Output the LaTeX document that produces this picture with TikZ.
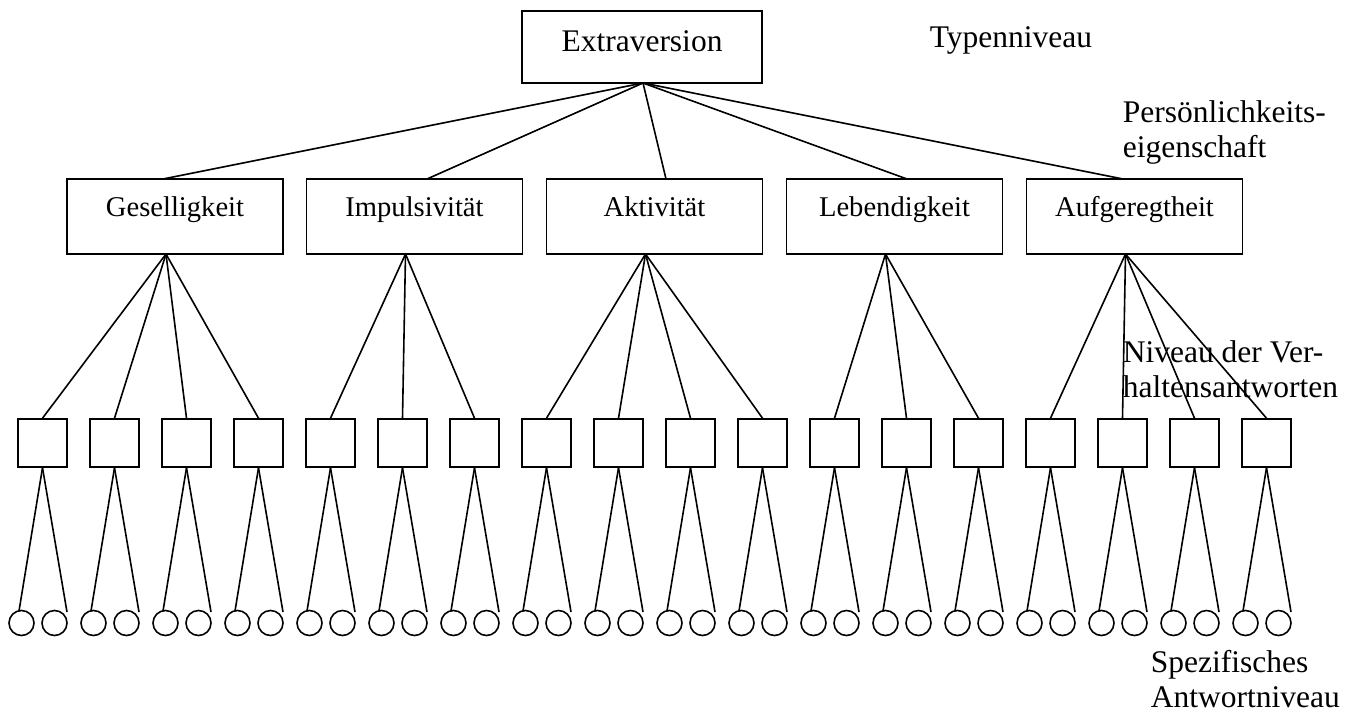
\documentclass[tikz,border=0pt]{standalone}
\usepackage{fontspec}
\setmainfont{Liberation Serif}
\usetikzlibrary{calc}
\begin{document}
\begin{tikzpicture}[x=1pt,y=-1pt,line width=1.6pt,
  topbox/.style={draw,rectangle,inner sep=0pt,minimum width=240pt,minimum height=72pt},
  midbox/.style={draw,rectangle,inner sep=0pt,minimum width=216pt,minimum height=75pt},
  sqbox/.style={draw,rectangle,inner sep=0pt,minimum width=48.5pt,minimum height=48pt},
  circ/.style={draw,circle,inner sep=0pt,minimum size=25pt},
  lbl/.style={inner sep=0pt,font=\fontsize{31.5}{35}\selectfont},
  midlbl/.style={inner sep=0pt,anchor=base,font=\fontsize{28.6}{32}\selectfont}]
\useasboundingbox (0,0) rectangle (1354,713);
% top level
\node[topbox] (ext) at (642,47) {};
\node[lbl,anchor=base] (extt) at (642,51) {Extraversion};
\node[lbl,anchor=base west] (typ) at (929,47.7) {Typenniveau};
\node[lbl,anchor=base west] (pe1) at (1122,122) {Persönlichkeits-};
\node[lbl,anchor=base west] (pe2) at (1122,157) {eigenschaft};
\node[lbl,anchor=base west] (nv1) at (1122,362) {Niveau der Ver-};
\node[lbl,anchor=base west] (nv2) at (1122,397) {haltensantworten};
\node[lbl,anchor=base west] (sp1) at (1150,672) {Spezifisches};
\node[lbl,anchor=base west] (sp2) at (1150,707) {Antwortniveau};
% middle level
\node[midbox] (g1) at (175,216.5) {};
\node[midbox] (g2) at (414.5,216.5) {};
\node[midbox] (g3) at (654.5,216.5) {};
\node[midbox] (g4) at (894.5,216.5) {};
\node[midbox] (g5) at (1134.5,216.5) {};
\node[midlbl] (g1t) at (175,216) {Geselligkeit};
\node[midlbl] (g2t) at (414.5,216) {Impulsivität};
\node[midlbl] (g3t) at (654.5,216) {Aktivität};
\node[midlbl] (g4t) at (894.5,216) {Lebendigkeit};
\node[midlbl] (g5t) at (1134.5,216) {Aufgeregtheit};
% attachment points
\coordinate (e0) at (643,83);
\coordinate (a1) at (163,179);
\coordinate (a2) at (427,179);
\coordinate (a3) at (666,179);
\coordinate (a4) at (907,179);
\coordinate (a5) at (1123,179);
\coordinate (b1) at (166,254);
\coordinate (b2) at (405.5,254);
\coordinate (b3) at (645.5,254);
\coordinate (b4) at (885.5,254);
\coordinate (b5) at (1125.5,254);
\foreach \i in {1,...,5} \draw (e0) -- (a\i);
% squares and circles
\foreach \k in {1,...,18} {
  \pgfmathsetmacro\cx{42.5+72*(\k-1)}
  \node[sqbox] (s\k) at (\cx,443) {};
  \node[circ] (c\k a) at (\cx-21,623) {};
  \node[circ] (c\k b) at (\cx+12,623) {};
  \draw (s\k.south) -- ($(c\k a.center)+(-2.5,-12)$);
  \draw (s\k.south) -- ($(c\k b.center)+(12.5,-11)$);
}
\foreach \k in {1,2,3,4} \draw (b1) -- (s\k.north);
\foreach \k in {5,6,7} \draw (b2) -- (s\k.north);
\foreach \k in {8,9,10,11} \draw (b3) -- (s\k.north);
\foreach \k in {12,13,14} \draw (b4) -- (s\k.north);
\foreach \k in {15,16,17,18} \draw (b5) -- (s\k.north);
\end{tikzpicture}
\end{document}
